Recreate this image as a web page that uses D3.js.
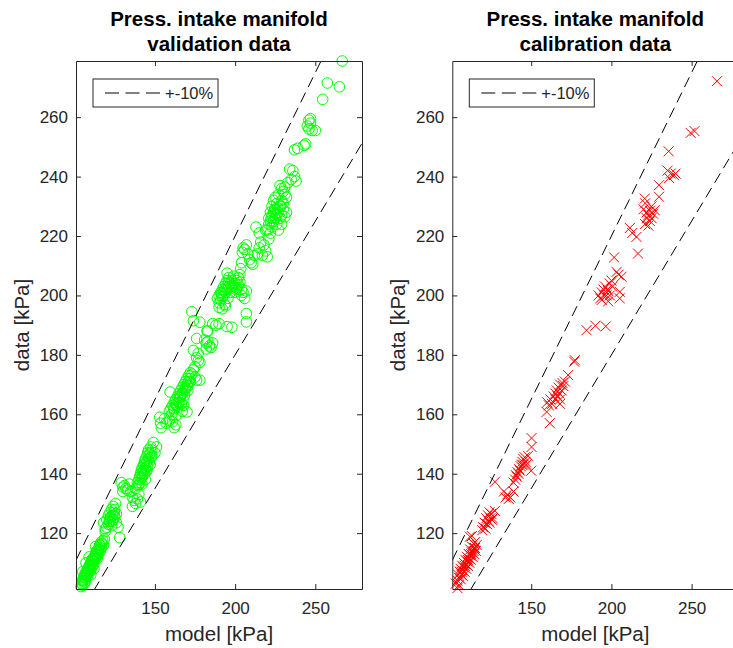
<!DOCTYPE html>
<html>
<head>
<meta charset="utf-8">
<script src="https://cdn.jsdelivr.net/npm/d3@7/dist/d3.min.js"></script>
<style>
  body { margin: 0; background: #fff; }
  svg { display: block; font-family: "Liberation Sans", Arial, sans-serif; }
</style>
</head>
<body>
<svg width="733" height="648"></svg>
<script>
// ---- data (model [kPa], data [kPa]) ----
let validModel = [
  104,104.5,105,105,105.5,106,106,106.5,107,107,107.5,108,108,108.5,109,109,109.5,110,110,110.5,
  111,111,111.5,112,112,112.5,113,113,113.5,114,114,114.5,115,115,115.5,116,116,116.5,117,117.5,
  118,109,107,112,113,110,105,118.5,
  104.5,105.5,106.5,107.5,108.5,109.5,110.5,111.5,112.5,113.5,114.5,115.5,116.5,106,108,110,112,114,
  118,119,120,120,121,121,122,122,122.5,123,123,123.5,124,124,124.5,125,125,125.5,126,126,119,128,127,
  121.5,123.5,124.5,122,
  129,130,131,132,133,134,135,130,136,137,138,139,136,140,141,
  138,139,139.5,140,140.5,141,141,141.5,142,142,142.5,143,143,143.5,144,144,144.5,145,145,145.5,
  146,146,146.5,147,147.5,148,148,149,147,145,144,142,150,151,
  140,141.5,142.5,143.5,144.5,145.5,146.5,147.5,
  153,153.5,154,156,157,162,163,161,159,
  159,160,160.5,161,162,162,163,163.5,164,164,165,165,165.5,166,166,166.5,167,167,167.5,168,
  168,168.5,169,169,170,170,170.5,171,171,172,172,173,174,175,168,170,176,167,163,159.5,178,
  161.5,163,164.5,166,167.5,169,170.5,172,
  174,175,176,177,178,177,181,182,183,184,185,182,186,182.5,176,
  173,174,178,186,188,190,195,198,183,
  189,190,190,191,191,192,192,193,193,193.5,194,194,195,195,195.5,196,196,197,197,198,
  198,199,199,200,200,201,201,202,202,203,204,204,205,206,207,190,192,194,207,207,195,203,
  191.5,193,194.5,196,197.5,199,200.5,
  203.5,204,204.5,205,206,207,208,209,210,211,212,214,215,216,218,219,220,217,213,215,221,
  220,221,221,222,222,223,223,223,224,224,224,225,225,225,226,226,226,227,227,227,
  228,228,229,229,229,230,230,231,232,222,219,
  222.5,224.5,225.5,226.5,228.5,
  228,229,230,231,232,233,234,235,236,237,238,231,
  237,239,243,244,246,247,245,246,248,250,247,
  254.6,257.5,265,266.8
];
let validData = [
  102,103,104,102.5,105,104,106,103.5,105.5,107,106,108,106.5,107.5,109,107,108.5,110,108,109.5,
  111,109,110.5,112,110.5,111.5,113,111.5,112.5,114,112.5,113.5,115,113,114.5,116,114,115,116.5,117.5,
  116,112,110,108,115.5,106,107,118,
  104,104.5,105,107,107.5,109.5,111,111,112,114,114.5,116,117,103,105.5,107.5,109.5,111.5,
  123.5,121.5,122,124.5,123,126,124,127,125.5,122.5,128,126,124.5,129,127,125.5,128,130,126.5,123.5,120.5,118.5,122,
  124,124,126,125,
  137,135.5,136,135,134.5,136.5,134,134,132,131,130,131.5,129,133,130.5,
  135,137,136,138,139,137,140,141,139,142,140.5,143,141,144,142,145,143.5,146,144,147,
  145,148,146.5,147,149,146,148,150.5,143,141,138,136.5,147,149,
  136.5,138.5,139.5,140,141,142.5,144,145.5,
  159,157,155.5,158.5,157,155.5,156.5,157.5,158,
  161,162,160,163,164,161.5,165,163,166,162.5,167,164,165.5,168,166,163.5,169,167,165,170,
  168,166.5,171,169,172,170,168,171,173,172,174,173.5,175,172.5,163,160.8,171.5,161,159.5,167.5,171.5,
  162,163.5,164,166.5,167,168.5,169.5,171,
  181.5,176,179,178,177.5,180.5,185,184,184.5,183,182.5,182,184,188,185.5,
  194.5,191.5,191,190.5,190,190.5,189.5,189.3,188,
  199,200,197.5,201,198.5,202,199.5,203,200,197,204,201,205,202,199,203,206,204,201,205,
  202.5,203,206.5,204,201,205,202.5,203.5,206,204.5,202,200,201,199,201.5,196,195.5,196.5,193.9,191.1,207.5,207,
  200.5,201.5,202.5,204.5,203,204,202,
  209,211,214.5,216,215.5,217,214,212,211,210.5,213.5,214,216,218,217,215,213,213.5,223,221,219,
  222,224,226,225,228,223,227,230,225,228,232,226,229,233,224,227,231,228,222,234,
  226,230,227,224,232,229,231,226.5,228,221,222,
  226,229,227.5,229.5,230,
  237,236,235,234,233,238,242.5,239,242,240,238.5,236.5,
  249,249.5,250.5,251,259,258,257,256,255.5,255.5,259.5,
  266,271.5,270.2,278.9
];
let calibModel = [
  104,104,104.5,105,105.5,106,106,106.5,107,107,107.5,108,108,108.5,109,109,109.5,110,110,110.5,
  111,111,111.5,112,112,112.5,113,113,113.5,114,114,114.5,115,115,115.5,116,113,111.8,103,105,
  106.5,108.5,110.5,112.5,114.5,
  119.5,120,121,121.5,122,122.5,123,123.5,124,124.5,125,125.5,126,124,127.4,
  127.4,133,135,137,139,134,136,
  139,140,140.5,141,141.5,142,142.5,143,143.5,144,144.5,145,145,146,146.5,147,148,150,150.2,150.2,
  159.6,161.6,160,161,162,163,164,165,165,166,166.5,167,167.5,168,168,169,169.5,170,171,168,173,176.8,177.2,
  184.5,190,196.5,
  192,193,194,195,195.5,196,197,197.5,198,199,199,200,200.5,201.7,203.2,204.5,206.3,205.2,205.2,198,194,
  211.5,213,215.6,216.6,
  220,221,222,222,223,224,224,225,225,226,220.8,227,221,223,
  229.7,229.7,235,237,239,240,236,235.7,
  249.4,251.8,265.8
];
let calibData = [
  101.5,104,106,105,107,104.5,108,106,107.5,109,105.5,108.5,110,107,109.5,111,108,110.5,112,109,
  111.5,113,110,112.5,114.5,111,113.5,115.5,112,114,116.5,113,115,117,114,116,119,118.8,103,102.5,
  107,109,111,113,115,
  121,122,123.5,121.5,125,123,126,124,127,125,126.5,124.5,125,123.5,127.5,
  137.3,134,133,132,134,132,131.5,
  137,138,139.5,139,140.5,140,141.5,141,142.5,143,144,143,145,145.5,144,143,146,141,152,149,
  160.8,157,164,163,165,163.5,166,167,165,168,166,169,167,170,165,168,170.5,169.5,171,163.5,173.2,177.7,178.2,
  188.3,189.8,189.6,
  200,199,201,202,200,203,200,202,201.5,204,200,205,203,212.8,207.9,207,206.3,201.2,199,198,198.5,
  222.7,221,219.7,214.1,
  229,224,228,226,227,228.5,225,230,226,227.5,232.6,228.7,231,223.5,
  237.1,233.2,242,241,240.5,241,239.5,248.5,
  254.7,255.3,272.1
];

let xTicks = [150, 200, 250];
let yTicks = [120, 140, 160, 180, 200, 220, 240, 260];
let bandFactors = [1.1, 0.9];   // +-10% lines
let titles = [["Press. intake manifold", "validation data"], ["Press. intake manifold", "calibration data"]];

// ---- layout ----
let svg = d3.select("svg");
let plotTop = 61, plotBottom = 589, plotW = 286;
let axisColor = "#262626";

function drawPanel(i, left, xs, ys, kind) {
  let x = d3.scaleLinear().domain([100.8, 279.1]).range([left, left + plotW]);
  let y = d3.scaleLinear().domain([101.2, 278.9]).range([plotBottom, plotTop]);
  let g = svg.append("g");

  // clip for the reference lines
  let clipId = "clip" + i;
  svg.append("clipPath").attr("id", clipId)
    .append("rect").attr("x", left).attr("y", plotTop)
    .attr("width", plotW).attr("height", plotBottom - plotTop);

  // markers
  let pts = xs.map((v, k) => [v, ys[k]]);
  if (kind === "o") {
    g.selectAll("circle.pt").data(pts).join("circle")
      .attr("class", "pt")
      .attr("cx", d => x(d[0])).attr("cy", d => y(d[1])).attr("r", 5.3)
      .attr("fill", "none").attr("stroke", "#00ff00").attr("stroke-width", 1);
  } else {
    g.selectAll("path.pt").data(pts).join("path")
      .attr("class", "pt")
      .attr("transform", d => `translate(${x(d[0])},${y(d[1])})`)
      .attr("d", "M-5,-5L5,5M5,-5L-5,5")
      .attr("fill", "none").attr("stroke", "#ff0000").attr("stroke-width", 1);
  }

  // +-10% lines
  let line = d3.line().x(d => x(d[0])).y(d => y(d[1]));
  bandFactors.forEach(f => {
    g.append("path")
      .attr("clip-path", `url(#${clipId})`)
      .attr("d", line([[100.8, 100.8 * f], [279.1, 279.1 * f]]))
      .attr("fill", "none").attr("stroke", "#000").attr("stroke-width", 1)
      .attr("stroke-dasharray", "11,6");
  });

  // axes, box with inward ticks
  let fs = 17;
  let styleAxis = a => {
    a.attr("font-size", null).attr("font-family", null);
    a.selectAll("path, line").attr("stroke", axisColor);
    a.selectAll("text").attr("fill", axisColor).style("font-size", fs + "px");
  };
  svg.append("g").attr("transform", `translate(0,${plotBottom})`)
    .call(d3.axisBottom(x).tickValues(xTicks).tickSizeInner(-5).tickSizeOuter(0).tickPadding(13))
    .call(styleAxis);
  svg.append("g").attr("transform", `translate(0,${plotTop})`)
    .call(d3.axisTop(x).tickValues(xTicks).tickSizeInner(-5).tickSizeOuter(0).tickFormat(""))
    .call(styleAxis);
  svg.append("g").attr("transform", `translate(${left},0)`)
    .call(d3.axisLeft(y).tickValues(yTicks).tickSizeInner(-5).tickSizeOuter(0).tickPadding(8))
    .call(styleAxis);
  svg.append("g").attr("transform", `translate(${left + plotW},0)`)
    .call(d3.axisRight(y).tickValues(yTicks).tickSizeInner(-5).tickSizeOuter(0).tickFormat(""))
    .call(styleAxis);

  // axis labels
  svg.append("text")
    .attr("x", left + plotW / 2).attr("y", 641)
    .attr("text-anchor", "middle").attr("fill", axisColor)
    .style("font-size", "20.5px").text("model [kPa]");
  svg.append("text")
    .attr("transform", `translate(${left - 47},${(plotTop + plotBottom) / 2}) rotate(-90)`)
    .attr("text-anchor", "middle").attr("fill", axisColor)
    .style("font-size", "20.5px").text("data [kPa]");

  // title
  titles[i].forEach((t, k) => {
    svg.append("text")
      .attr("x", left + plotW / 2).attr("y", 26 + k * 24.5)
      .attr("text-anchor", "middle").attr("fill", "#000")
      .style("font-size", "20.5px").style("font-weight", "bold").text(t);
  });

  // legend
  let lg = svg.append("g").attr("transform", `translate(${left + 17},79)`);
  lg.append("rect").attr("width", 125).attr("height", 28)
    .attr("fill", "#fff").attr("stroke", axisColor).attr("stroke-width", 1);
  lg.append("line").attr("x1", 12).attr("x2", 67).attr("y1", 14).attr("y2", 14)
    .attr("stroke", "#000").attr("stroke-width", 1).attr("stroke-dasharray", "14,6.5");
  lg.append("text").attr("x", 72).attr("y", 20)
    .attr("fill", axisColor).style("font-size", "16.5px").text("+-10%");
}

drawPanel(0, 76, validModel, validData, "o");
drawPanel(1, 452.3, calibModel, calibData, "x");
</script>
</body>
</html>
